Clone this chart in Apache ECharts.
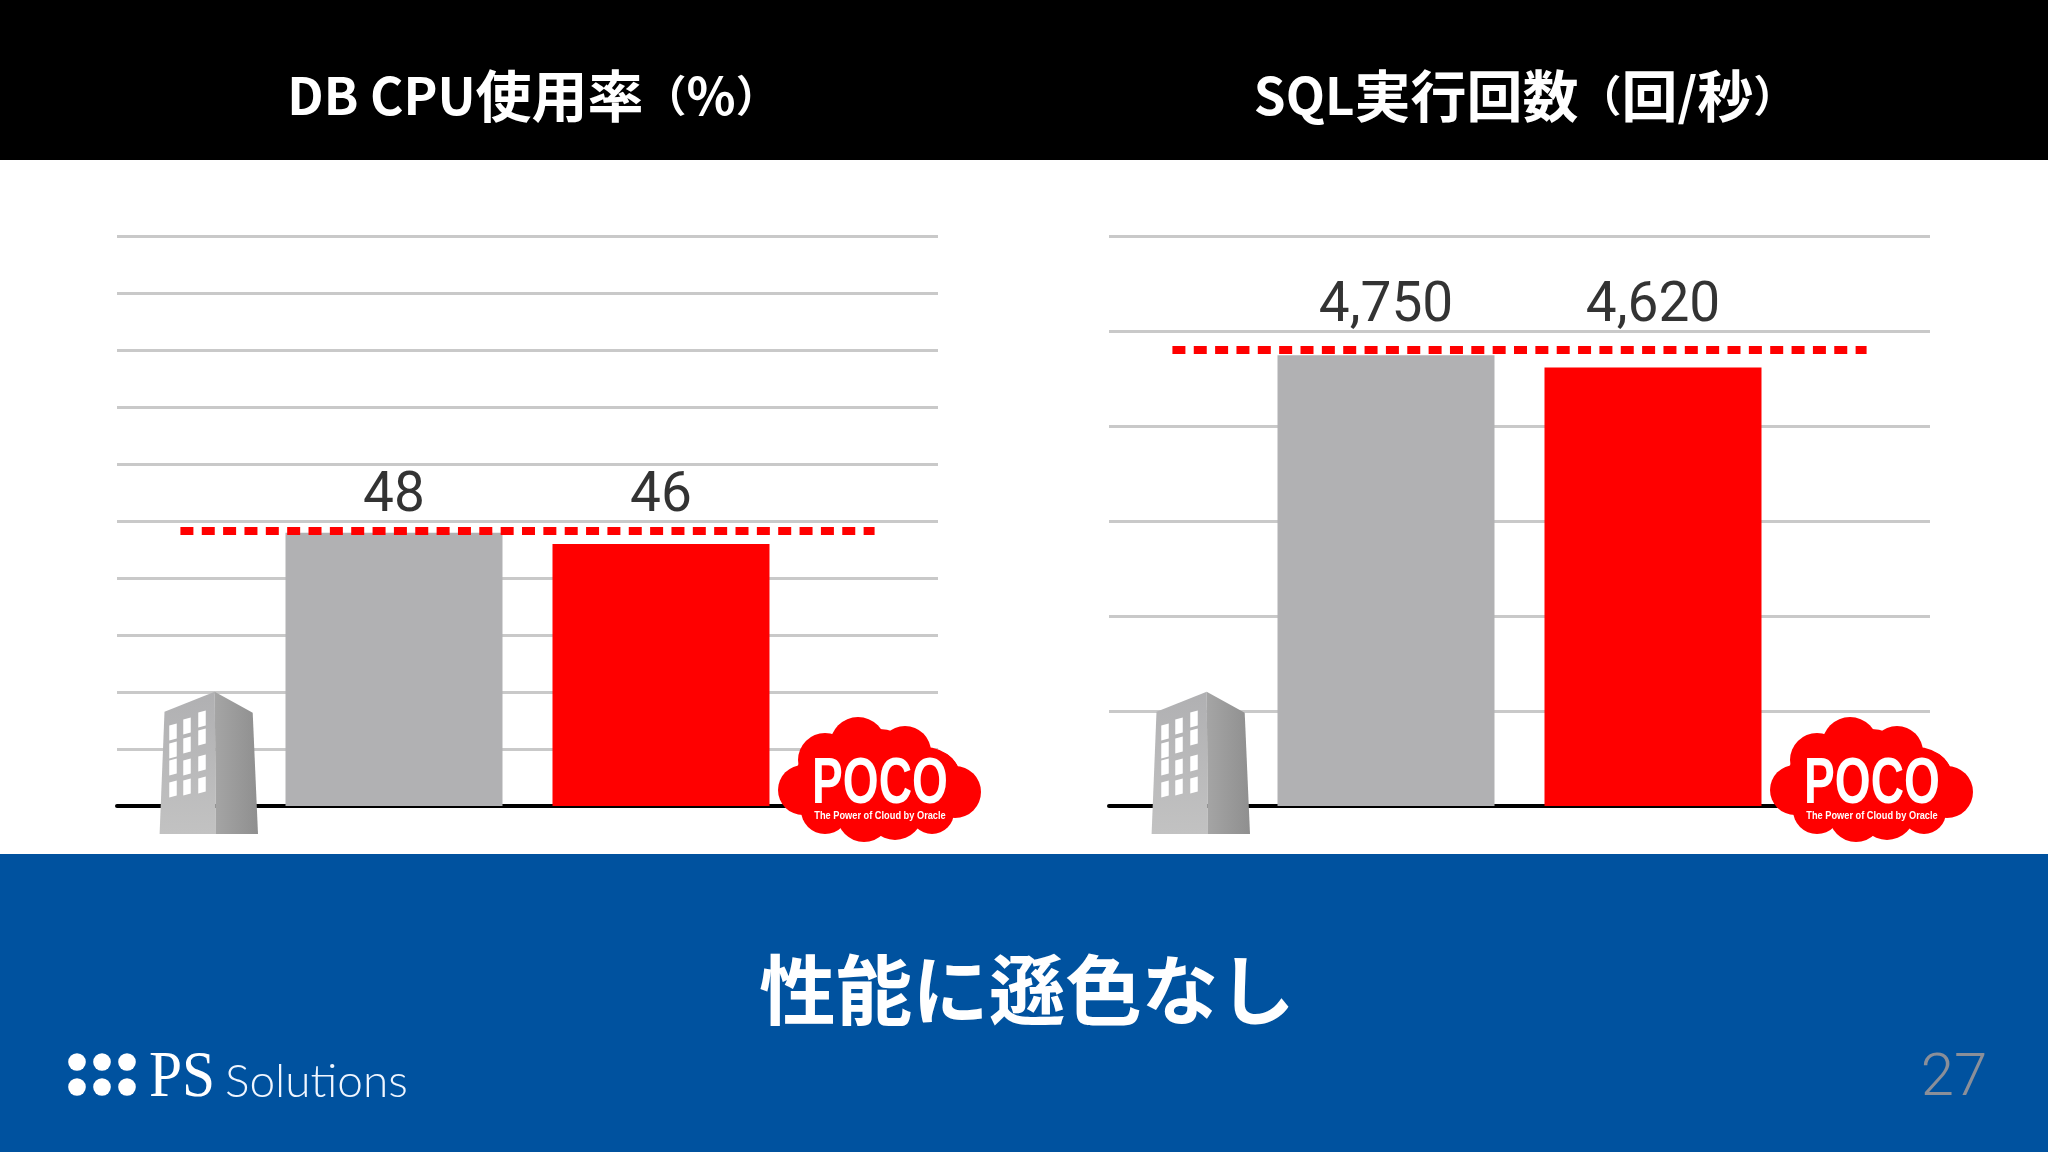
<!DOCTYPE html>
<html><head><meta charset="utf-8">
<style>html,body{margin:0;padding:0;background:#fff}#c{width:2048px;height:1152px}</style>
<script src="https://cdn.jsdelivr.net/npm/echarts@6/dist/echarts.min.js"></script>
</head><body><div id="c"></div>
<script>
const barSlots = [1, 2];
const cpuValues = [48, 46];
const sqlValues = [4750, 4620];
const cpuReference = 48.3;
const sqlReference = 4804;
const cpuLabelLevel = 54.2;
const sqlLabelLevel = 5255;
const referenceSpan = [0.2, 2.8];
const panelTitles = ['DB CPU使用率（%）', 'SQL実行回数（回/秒）'];
const headline = '性能に遜色なし';
const pageNumber = '27';

const JP = '"Noto Sans CJK JP","Noto Sans",sans-serif';
const GRAY = '#b1b1b3', RED = '#ff0000', BLUE = '#00529f';
const PANEL_DX = 992;
const xMin = -0.0375, xMax = 3.0375;

const chart = echarts.init(document.getElementById('c'), null, {renderer: 'canvas'});

function poly(points, fill, z) {
  return {type: 'polygon', shape: {points}, style: {fill}, z, silent: true};
}
function building(dx) {
  const els = [
    poly([[164.5+dx,711.7],[214.7+dx,691.7],[216+dx,834],[159.6+dx,834]],
      new echarts.graphic.LinearGradient(0,0,0,1,[{offset:0,color:'#b0b0b2'},{offset:1,color:'#c2c2c2'}]), 20),
    poly([[214.7+dx,691.7],[252.7+dx,712.7],[258+dx,834],[216+dx,834]],
      new echarts.graphic.LinearGradient(0,0,1,0,[{offset:0,color:'#a5a5a5'},{offset:1,color:'#8f8f8f'}]), 20)
  ];
  const cols = [173, 187, 202];
  const rowTilt = [[732,726,719],[750,745,737],[767,767,763],[789,787,785]];
  cols.forEach((cx, c) => rowTilt.forEach((r) => {
    const cy = r[c], w = 7.5, h = 15;
    els.push(poly([[cx-w/2+dx,cy-h/2+1],[cx+w/2+dx,cy-h/2-1],[cx+w/2+dx,cy+h/2-1],[cx-w/2+dx,cy+h/2+1]], '#ffffff', 21));
  }));
  return els;
}
function cloud(dx) {
  const bumps = [[858,745,28],[905,752,26],[935,775,24],[955,792,26],[932,812,22],
                 [895,812,28],[864,815,27],[825,810,24],[803,790,25],[825,760,27],
                 [880,782,45],[835,785,42],[925,785,38],[880,765,36]];
  const els = bumps.map(b => ({type:'circle', shape:{cx:b[0]+dx, cy:b[1], r:b[2]}, style:{fill:RED}, z:22, silent:true}));
  els.push({type:'text', x:880+dx, y:785, z:23, silent:true, scaleX:0.71,
    style:{text:'POCO', fill:'#fff', font:'bold 65px "Liberation Sans Narrow",sans-serif', align:'center', verticalAlign:'middle'}});
  els.push({type:'text', x:880+dx, y:816, z:23, silent:true, scaleX:0.88,
    style:{text:'The Power of Cloud by Oracle', fill:'#fff', font:'bold 10.5px "Liberation Sans Narrow",sans-serif', align:'center', verticalAlign:'middle'}});
  return els;
}
function logo() {
  const els = [];
  [77,102,127].forEach(x => [1062,1087].forEach(y => els.push(
    {type:'circle', shape:{cx:x, cy:y, r:8.8}, style:{fill:'#fff'}, z:5, silent:true})));
  els.push({type:'text', x:149, y:1079, z:5, silent:true, scaleX:0.9,
    style:{text:'PS', fill:'#fff', font:'66px "Liberation Serif",serif', align:'left', verticalAlign:'middle'}});
  els.push({type:'text', x:225, y:1082, z:5, silent:true,
    style:{text:'Solutions', fill:'#f0f6ff', font:'300 46px Lato,sans-serif', align:'left', verticalAlign:'middle'}});
  return els;
}

// split a heading into runs so Latin, kanji and brackets get their own sizes
function titleRuns(text) {
  return text.replace(/[（）]+|[A-Za-z %/]+|[^（）A-Za-z %/]+/g, s => {
    const token = /[（）]/.test(s) ? 'p' : /[A-Za-z %/]/.test(s) ? 'l' : 'j';
    return '{' + token + '|' + s + '}';
  });
}
const titleRich = {
  l: {color:'#fff', fontFamily:JP, fontWeight:'bold', fontSize:51},
  j: {color:'#fff', fontFamily:JP, fontWeight:'bold', fontSize:56},
  p: {color:'#fff', fontFamily:JP, fontWeight:'bold', fontSize:43}
};

const panels = [
  {values: cpuValues, ref: cpuReference, level: cpuLabelLevel, max: 100, interval: 10},
  {values: sqlValues, ref: sqlReference, level: sqlLabelLevel, max: 6000, interval: 1000}
];

const option = {
  backgroundColor: '#fff',
  animation: false,
  title: [
    {text: titleRuns(panelTitles[0]), left: 528, top: 63, textAlign: 'center', textStyle: {color:'#fff', rich:titleRich}},
    {text: titleRuns(panelTitles[1]), left: 1520, top: 63, textAlign: 'center', textStyle: {color:'#fff', rich:titleRich}},
    {text: headline, left: 1022, top: 941, textAlign: 'center',
     textStyle: {color:'#fff', fontFamily:JP, fontWeight:'bold', fontSize:76.5, lineHeight:88}},
    {text: pageNumber, left: 1949, top: 1035, textAlign: 'center',
     textStyle: {color:'#8a8f99', fontFamily:'Roboto,sans-serif', fontWeight:300, fontSize:60, lineHeight:80}}
  ],
  grid: panels.map((p, i) => ({left: 117 + i*PANEL_DX, width: 821, top: 236.5, height: 569.5})),
  xAxis: panels.map((p, i) => ({
    gridIndex: i, type: 'value', min: xMin, max: xMax, splitLine: {show:false},
    axisLabel: {show:false}, axisTick: {show:false},
    axisLine: {show:true, lineStyle:{color:'#000', width:4}}
  })),
  yAxis: panels.map((p, i) => ({
    gridIndex: i, type: 'value', min: 0, max: p.max, interval: p.interval,
    axisLabel: {show:false}, axisTick: {show:false}, axisLine: {show:false},
    splitLine: {show:true, lineStyle:{color:'#c9c9c9', width:3}}
  })),
  series: panels.flatMap((p, i) => [
    {type:'bar', xAxisIndex:i, yAxisIndex:i, barWidth:217, z:2,
     data: p.values.map((v, k) => ({value:[barSlots[k], v], itemStyle:{color: k ? RED : GRAY}}))},
    {type:'line', xAxisIndex:i, yAxisIndex:i, z:3, symbol:'none', silent:true,
     lineStyle:{color:RED, width:8, type:[13,8.35], cap:'butt'},
     data: referenceSpan.map(x => [x, p.ref])},
    {type:'scatter', xAxisIndex:i, yAxisIndex:i, z:4, symbolSize:1, silent:true,
     itemStyle:{color:'transparent'},
     data: p.values.map((v, k) => ({value:[barSlots[k], p.level],
       label:{show:true, position:'inside', formatter: v.toLocaleString('en-US'),
              color:'#000', fontFamily:'Roboto,sans-serif', fontWeight:400, fontSize:55}}))}
  ]),
  graphic: {elements: [
    {type:'rect', shape:{x:0,y:0,width:2048,height:160}, style:{fill:'#000'}, z:-1, silent:true},
    {type:'rect', shape:{x:0,y:854,width:2048,height:298}, style:{fill:BLUE}, z:-1, silent:true},
    ...building(0), ...building(PANEL_DX), ...cloud(0), ...cloud(PANEL_DX), ...logo()
  ]}
};
chart.setOption(option);
</script></body></html>
